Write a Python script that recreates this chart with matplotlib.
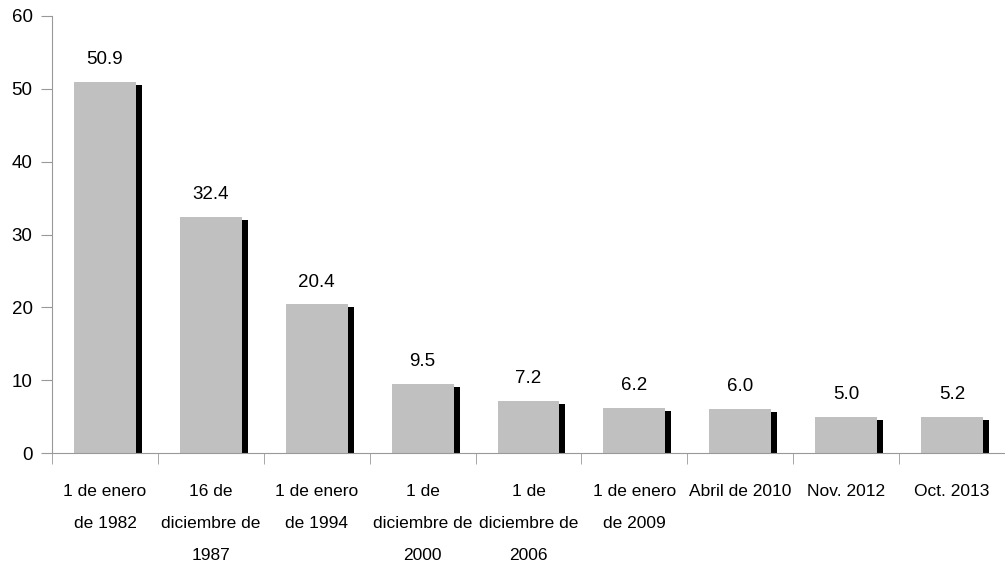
import matplotlib
matplotlib.use("Agg")
import matplotlib.pyplot as plt
import matplotlib.transforms as mtransforms
import numpy as np

categories = ["1 de enero\nde 1982", "16 de\ndiciembre de\n1987", "1 de enero\nde 1994",
              "1 de\ndiciembre de\n2000", "1 de\ndiciembre de\n2006", "1 de enero\nde 2009",
              "Abril de 2010", "Nov. 2012", "Oct. 2013"]
values = [50.9, 32.4, 20.4, 9.5, 7.2, 6.2, 6.0, 5.0, 5.0]
value_labels = ["50.9", "32.4", "20.4", "9.5", "7.2", "6.2", "6.0", "5.0", "5.2"]

plt.rcParams["font.family"] = ["Liberation Sans Narrow", "Liberation Sans", "DejaVu Sans"]

fig = plt.figure(figsize=(10.05, 5.63), dpi=100)
ax = fig.add_axes([52 / 1005, 110 / 563, 953 / 1005, 437 / 563])

x = np.arange(len(values))
w = 0.585

# shadow bars, shifted right and down a few pixels
shadow = ax.transData + mtransforms.ScaledTranslation(6 / 100, -3 / 100, fig.dpi_scale_trans)
ax.bar(x, values, width=w, color="black", transform=shadow, zorder=1)
ax.bar(x, values, width=w, color="#c0c0c0", zorder=2)

for xi, v, lab in zip(x, values, value_labels):
    ax.annotate(lab, (xi, v), xytext=(0, 10), textcoords="offset points",
                ha="center", va="bottom", fontsize=13.5)

ax.set_xlim(-0.5, len(values) - 0.5)
ax.set_ylim(0, 60)
ax.set_yticks(range(0, 61, 10))

ax.set_xticks(x)
ax.set_xticklabels(categories, fontsize=12.5, linespacing=2.45, va="top")
ax.set_xticks(np.arange(len(values) + 1) - 0.5, minor=True)
ax.tick_params(axis="x", which="major", length=0, pad=22)
ax.tick_params(axis="x", which="minor", length=8, color="#999999")
ax.tick_params(axis="y", length=8, color="#999999", labelsize=13.5, pad=6)

for s in ["top", "right"]:
    ax.spines[s].set_visible(False)
for s in ["left", "bottom"]:
    ax.spines[s].set_color("#999999")

fig.savefig("out.png", dpi=100)
